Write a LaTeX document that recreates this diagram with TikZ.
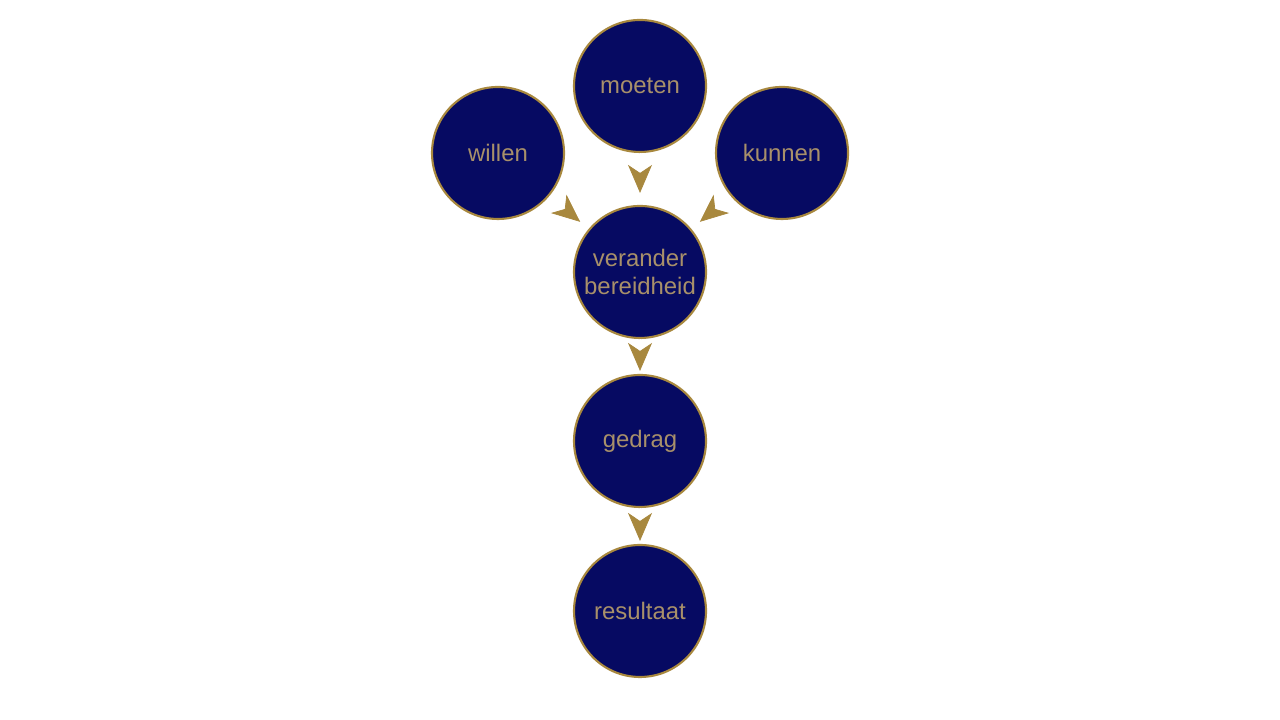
\documentclass[tikz,border=0pt]{standalone}
\usepackage{fontspec}
\setmainfont{Liberation Sans}
\usepackage{tikz}
\usetikzlibrary{arrows.meta}
\definecolor{navy}{HTML}{060A62}
\definecolor{gold}{HTML}{A8883E}
\definecolor{tan}{HTML}{A8906A}
\tikzset{
  bol/.style={circle,draw=gold,line width=0.6pt,fill=navy,minimum size=1.32cm,inner sep=0pt,
    text=tan,font=\fontsize{6.8}{8}\selectfont,align=center},
  pijl/.style={draw=white,line width=0.2pt,-{Stealth[color=gold,fill=gold,length=2.8mm,width=2.4mm,inset=0.8mm]}}
}
\begin{document}
\begin{tikzpicture}
  \useasboundingbox (0,0) rectangle (12.8,7.2);
   \draw (6.40,6.34) node[bol] (moeten) {moeten};
   \draw (4.98,5.67) node[bol] (willen) {willen};
   \draw (7.82,5.67) node[bol] (kunnen) {kunnen};
   \draw (6.40,4.48) node[bol] (verander) {verander\\bereidheid};
   \draw (6.40,2.79) node[bol] (gedrag) {gedrag};
   \draw (6.40,1.09) node[bol] (resultaat) {resultaat};

       \path[pijl] (moeten) edge [shorten >=1.2mm] (verander);
       \path[pijl] (willen) edge [shorten >=1.1mm] (verander);
       \path[pijl] (kunnen) edge [shorten >=1.1mm] (verander);
       \path[pijl] (verander) edge [shorten >=0.3mm] (gedrag);
       \path[pijl] (gedrag) edge [shorten >=0.3mm] (resultaat);
\end{tikzpicture}
\end{document}
